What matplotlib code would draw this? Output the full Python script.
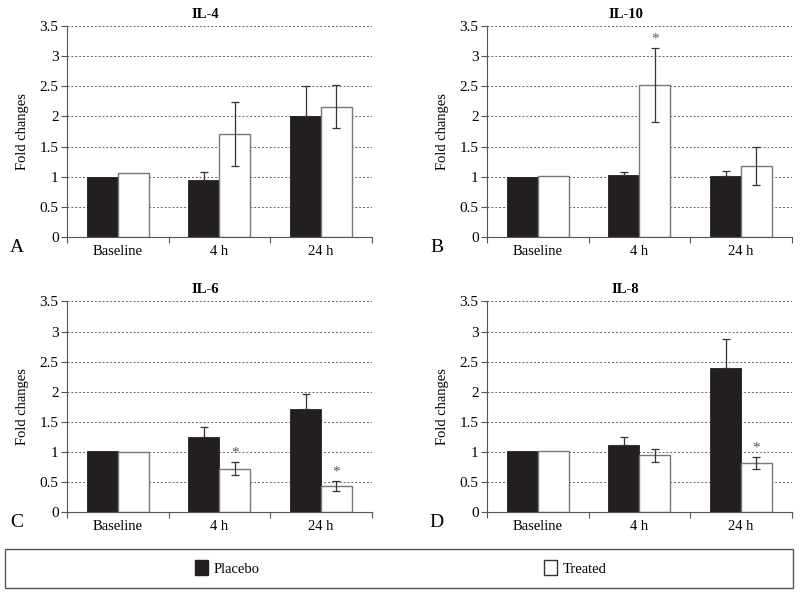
import numpy as np
import matplotlib.pyplot as plt
from matplotlib.patches import Rectangle, Patch

plt.rcParams['font.family'] = ['Liberation Serif', 'DejaVu Serif']

groups = ['Baseline', '4 h', '24 h']
panels = ['IL-4', 'IL-10', 'IL-6', 'IL-8']
letters = ['A', 'B', 'C', 'D']

placebo = {
    'IL-4': [1.0, 0.94, 2.0],
    'IL-10': [1.0, 1.02, 1.01],
    'IL-6': [1.01, 1.24, 1.71],
    'IL-8': [1.01, 1.12, 2.39],
}
placebo_err = {
    'IL-4': [0.0, 0.13, 0.5],
    'IL-10': [0.0, 0.05, 0.08],
    'IL-6': [0.0, 0.17, 0.25],
    'IL-8': [0.0, 0.13, 0.48],
}
treated = {
    'IL-4': [1.06, 1.71, 2.16],
    'IL-10': [1.01, 2.52, 1.18],
    'IL-6': [1.0, 0.72, 0.43],
    'IL-8': [1.01, 0.94, 0.82],
}
treated_err = {
    'IL-4': [0.0, 0.53, 0.36],
    'IL-10': [0.0, 0.61, 0.31],
    'IL-6': [0.0, 0.11, 0.085],
    'IL-8': [0.0, 0.105, 0.1],
}
# significance marks on the treated bars
signif = {
    'IL-4': [False, False, False],
    'IL-10': [False, True, False],
    'IL-6': [False, True, True],
    'IL-8': [False, False, True],
}

fig = plt.figure(figsize=(8.0, 5.93), dpi=100)

positions = [
    [0.08375, 0.6003, 0.381, 0.356],
    [0.60875, 0.6003, 0.381, 0.356],
    [0.08375, 0.1366, 0.381, 0.355],
    [0.60875, 0.1366, 0.381, 0.355],
]

dark = '#231f20'
spine_col = '#555555'
w = 0.305
x = np.arange(len(groups))

for name, letter, pos in zip(panels, letters, positions):
    ax = fig.add_axes(pos)
    ax.bar(x - w / 2, placebo[name], w, color=dark, edgecolor=dark, linewidth=0.6, zorder=2)
    ax.bar(x + w / 2, treated[name], w, color='white', edgecolor='#777777', linewidth=1.0, zorder=2)

    pe = np.array(placebo_err[name])
    te = np.array(treated_err[name])
    pv = np.array(placebo[name])
    tv = np.array(treated[name])
    m = pe > 0
    # lower half of the placebo error hides inside the black bar
    ax.errorbar((x - w / 2)[m], pv[m], yerr=[np.zeros(m.sum()), pe[m]], fmt='none',
                ecolor='#333333', elinewidth=0.9, capsize=3, capthick=0.9, zorder=3)
    m = te > 0
    ax.errorbar((x + w / 2)[m], tv[m], yerr=te[m], fmt='none',
                ecolor='#333333', elinewidth=0.9, capsize=3, capthick=0.9, zorder=3)
    for i, s in enumerate(signif[name]):
        if s:
            top = treated[name][i] + treated_err[name][i]
            ax.text(x[i] + w / 2, top + 0.04, '*', ha='center', va='bottom',
                    fontsize=11, color='#555555')

    ax.set_xlim(-0.5, 2.5)
    ax.set_ylim(0, 3.5)
    ax.set_yticks(np.arange(0, 3.51, 0.5))
    ax.set_yticklabels(['0', '0.5', '1', '1.5', '2', '2.5', '3', '3.5'])
    ax.set_xticks([-0.5, 0.5, 1.5, 2.5])
    ax.set_xticklabels([])
    ax.set_xticks(x, minor=True)
    ax.set_xticklabels(groups, minor=True)
    ax.tick_params(axis='x', which='minor', length=0, labelsize=10.5, pad=6)
    ax.tick_params(axis='x', which='major', length=4, color=spine_col, direction='out')
    ax.tick_params(axis='y', length=4, color=spine_col, labelsize=11, pad=2)
    for gy in np.arange(0.5, 3.51, 0.5):
        ax.axhline(gy, color='#666666', linestyle=(0, (2, 2)), linewidth=0.7, zorder=1)
    ax.spines['top'].set_visible(False)
    ax.spines['right'].set_visible(False)
    ax.spines['left'].set_color(spine_col)
    ax.spines['bottom'].set_color(spine_col)
    ax.set_ylabel('Fold changes', fontsize=10.5, labelpad=8)
    ax.set_title(name, fontsize=10.5, fontweight='bold', x=0.455, pad=6)
    ax.text(-0.165, -0.052, letter, transform=ax.transAxes, fontsize=14,
            ha='center', va='center')

# legend box at the bottom
fig.patches.append(Rectangle((5 / 800, 1 - 588 / 593), 788 / 800, 39 / 593,
                             transform=fig.transFigure, fill=False,
                             edgecolor='#555555', linewidth=1.0))
handles = [Patch(facecolor=dark, edgecolor=dark, label='Placebo'),
           Patch(facecolor='white', edgecolor='#333333', label='Treated')]
fig.legend(handles=handles, loc='center', bbox_to_anchor=(401 / 800, 1 - 568 / 593),
           ncol=2, frameon=False, fontsize=10.5, handlelength=0.9, handleheight=1.2,
           handletextpad=0.4, columnspacing=19.5)

fig.savefig('out.png', dpi=100)
